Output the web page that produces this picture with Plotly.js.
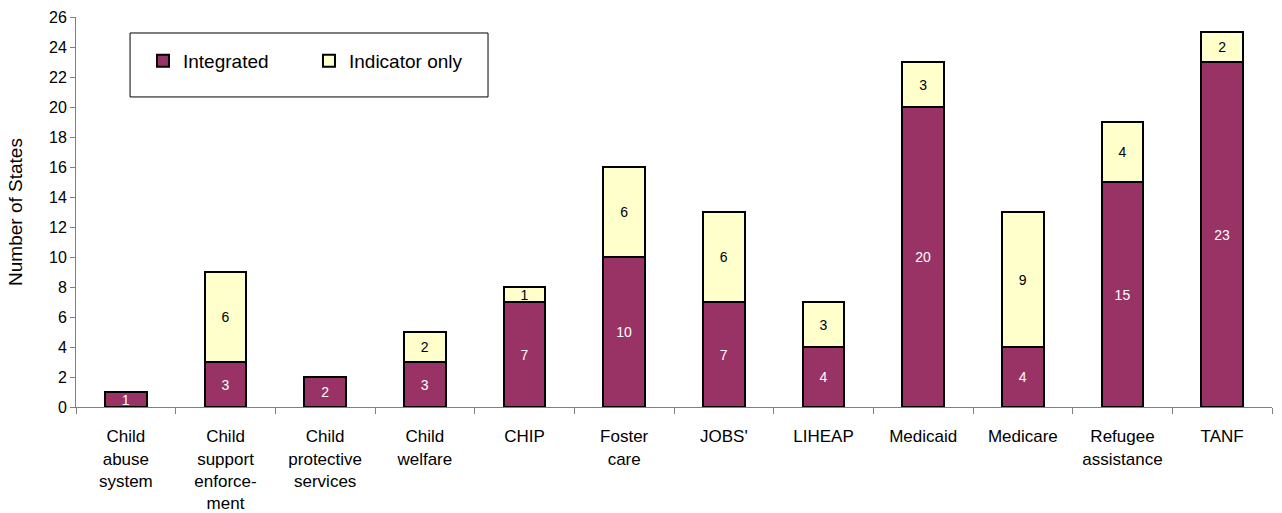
<!DOCTYPE html>
<html>
<head>
<meta charset="utf-8">
<script src="https://cdn.plot.ly/plotly-3.0.1.min.js"></script>
<style>html,body{margin:0;padding:0;background:#fff;}#chart{width:1282px;height:513px;}</style>
</head>
<body>
<div id="chart"></div>
<script>
const categories = ["Child<br>abuse<br>system", "Child<br>support<br>enforce-<br>ment", "Child<br>protective<br>services", "Child<br>welfare", "CHIP", "Foster<br>care", "JOBS'", "LIHEAP", "Medicaid", "Medicare", "Refugee<br>assistance", "TANF"];
const integrated = [1, 3, 2, 3, 7, 10, 7, 4, 20, 4, 15, 23];
const indicatorOnly = [0, 6, 0, 2, 1, 6, 6, 3, 3, 9, 4, 2];
const yTicks = [0, 2, 4, 6, 8, 10, 12, 14, 16, 18, 20, 22, 24, 26];

const FONT = "Liberation Sans, Arial, sans-serif";

const traces = [
  {
    type: "bar", name: "Integrated", x: categories, y: integrated,
    text: integrated.map(v => v > 0 ? String(v) : ""),
    textposition: "inside", insidetextanchor: "middle", constraintext: "none", textangle: 0,
    textfont: {family: FONT, size: 14, color: "#ffffff"},
    marker: {color: "#993366", line: {color: "#000000", width: 2}},
    hoverinfo: "none"
  },
  {
    type: "bar", name: "Indicator only", x: categories, y: indicatorOnly,
    text: indicatorOnly.map(v => v > 0 ? String(v) : ""),
    textposition: "inside", insidetextanchor: "middle", constraintext: "none", textangle: 0,
    textfont: {family: FONT, size: 14, color: "#000000"},
    marker: {color: "#FFFFCC", line: {color: "#000000", width: 2}},
    hoverinfo: "none"
  }
];

const layout = {
  width: 1282, height: 513,
  margin: {l: 76, r: 10, t: 17, b: 106, autoexpand: false},
  paper_bgcolor: "#ffffff", plot_bgcolor: "#ffffff",
  barmode: "stack", bargap: 0.58,
  font: {family: FONT, size: 16, color: "#000000"},
  showlegend: true,
  legend: {
    orientation: "h", xref: "paper", yref: "paper",
    x: 0.056, y: 0.936, xanchor: "left", yanchor: "top",
    font: {family: FONT, size: 19, color: "#000000"},
    bgcolor: "rgba(0,0,0,0)", borderwidth: 0,
    entrywidth: 121, traceorder: "normal"
  },
  shapes: [{
    type: "rect", xref: "paper", yref: "paper",
    x0: 0.0452, x1: 0.3445, y0: 0.795, y1: 0.959,
    line: {color: "#000000", width: 1}, fillcolor: "#ffffff", layer: "below"
  }],
  xaxis: {
    type: "category", showline: true, linecolor: "#808080", linewidth: 1,
    ticks: "outside", tickson: "boundaries", ticklen: 6, tickcolor: "#808080",
    showgrid: false, zeroline: false, tickangle: 0, ticklabelstandoff: 14,
    tickfont: {family: FONT, size: 17, color: "#000000"}
  },
  yaxis: {
    range: [0, 26], tickvals: yTicks, ticktext: yTicks.map(String),
    showline: true, linecolor: "#808080", linewidth: 1,
    ticks: "outside", ticklen: 5, tickcolor: "#808080",
    showgrid: false, zeroline: false,
    tickfont: {family: FONT, size: 16, color: "#000000"},
    title: {text: "Number of States", font: {family: FONT, size: 19, color: "#000000"}, standoff: 21}
  }
};

Plotly.newPlot("chart", traces, layout, {displayModeBar: false, staticPlot: true});
</script>
</body>
</html>
